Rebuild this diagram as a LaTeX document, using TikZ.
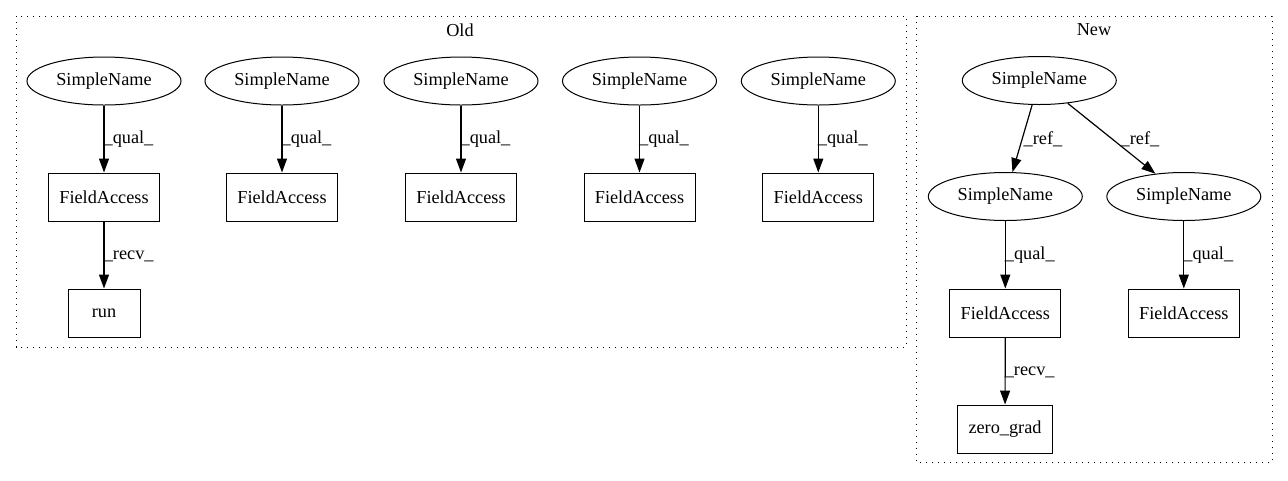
\documentclass[tikz,border=0pt]{standalone}
\usepackage{fontspec}
\setmainfont{Liberation Serif}
\usetikzlibrary{shapes.geometric,arrows.meta}
\begin{document}
\begin{tikzpicture}[x=0.75pt,y=-0.75pt,
  every node/.style={font=\fontsize{13.7pt}{16pt}\selectfont},
  sname/.style={draw,ellipse,line width=0.75pt,minimum width=115.5pt,minimum height=36pt,inner sep=0pt},
  fbox/.style={draw,rectangle,line width=0.75pt,minimum width=83.25pt,minimum height=36pt,inner sep=0pt},
  edge/.style={draw,line width=0.9pt,-{Triangle[length=10.5pt,width=7.5pt]}},
  elabel/.style={inner sep=0pt},
  cluster/.style={draw,line width=0.75pt,dash pattern=on 0.9pt off 3.6pt}]
\useasboundingbox (0,0) rectangle (1288,480);
% clusters
\draw[cluster] (16,16) rectangle (906,347);
\draw[cluster] (916,16) rectangle (1272,462);
\node (tOld) at (460,30) {Old};
\node (tNew) at (1094,30) {New};
% Old
\foreach \i/\x in {1/104,2/282,3/461,4/639.5,5/818.3}{
  \node[sname] (s\i) at (\x,81) {SimpleName};
  \node[fbox] (f\i) at (\x,197) {FieldAccess};
  \draw[edge] (s\i) -- (f\i);
  \node[elabel] (q\i) at (\x+24.5,139) {\_qual\_};
}
\node[fbox,minimum width=54pt] (run) at (104,313) {run};
\draw[edge] (f1) -- (run);
\node[elabel] (r1) at (128.7,256) {\_recv\_};
% New
\node[sname] (n0) at (1039.3,80.5) {SimpleName};
\node[sname] (n1) at (1005.3,196.5) {SimpleName};
\node[sname] (n2) at (1183.8,196.5) {SimpleName};
\node[fbox] (g1) at (1005.3,313) {FieldAccess};
\node[fbox] (g2) at (1183.8,313) {FieldAccess};
\node[fbox,minimum width=71.25pt] (zg) at (1005,429) {zero\_grad};
\draw[edge] (n0) -- (n1);
\draw[edge] (n0) -- (n2);
\draw[edge] (n1) -- (g1);
\draw[edge] (n2) -- (g2);
\draw[edge] (g1) -- (zg);
\node[elabel] (l1) at (1043,139) {\_ref\_};
\node[elabel] (l2) at (1140,139) {\_ref\_};
\node[elabel] (l3) at (1029.8,255) {\_qual\_};
\node[elabel] (l4) at (1208.3,255) {\_qual\_};
\node[elabel] (l5) at (1029.7,372) {\_recv\_};
\end{tikzpicture}
\end{document}
